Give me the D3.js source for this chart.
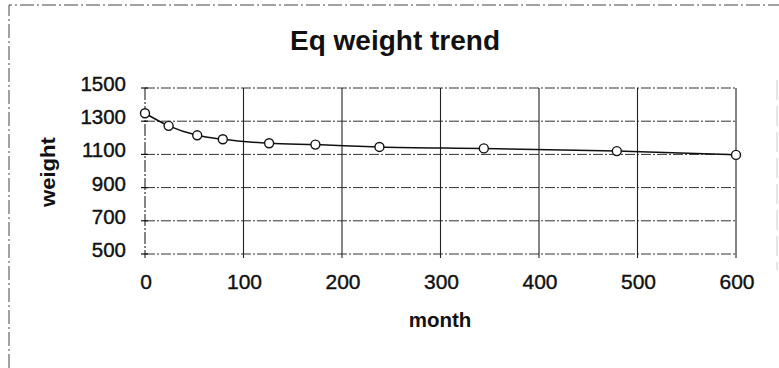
<!DOCTYPE html>
<html><head><meta charset="utf-8">
<script src="https://cdn.jsdelivr.net/npm/d3@7"></script>
<style>
html,body{margin:0;padding:0;background:#fff;}
svg{display:block;font-family:"Liberation Sans",Arial,sans-serif;}
</style></head>
<body><svg id="c" width="779" height="368"></svg>
<script>
const months = [0, 24, 53, 79, 126, 173, 238, 344, 479, 600];
const weights = [1348, 1272, 1215, 1191, 1167, 1159, 1145, 1136, 1120, 1097];
const xTicks = [0, 100, 200, 300, 400, 500, 600];
const yTicks = [500, 700, 900, 1100, 1300, 1500];
const title = "Eq weight trend";
const xLabel = "month";
const yLabel = "weight";

const svg = d3.select("#c");
const x = d3.scaleLinear().domain([0, 600]).range([145, 736]);
const y = d3.scaleLinear().domain([500, 1500]).range([254, 88]);

// outer border (dashed, like the scanned frame)
svg.append("path").attr("d", "M9,368 L9,5 L779,5")
  .attr("fill", "none").attr("stroke", "#444").attr("stroke-width", 1)
  .attr("stroke-dasharray", "14,3,2,3");
svg.append("line").attr("x1", 777).attr("x2", 777).attr("y1", 80).attr("y2", 270)
  .attr("stroke", "#ccc").attr("stroke-width", 1).attr("stroke-dasharray", "20,6");

// horizontal gridlines
svg.append("g").selectAll("line").data(yTicks).join("line")
  .attr("x1", x(0)).attr("x2", x(600))
  .attr("y1", d => y(d)).attr("y2", d => y(d))
  .attr("stroke", "#333").attr("stroke-width", 1)
  .attr("stroke-dasharray", "10,2,2,2");
// vertical gridlines
svg.append("g").selectAll("line").data(xTicks).join("line")
  .attr("x1", d => x(d)).attr("x2", d => x(d))
  .attr("y1", y(1500)).attr("y2", y(500) + 4)
  .attr("stroke", "#222").attr("stroke-width", 1.1)
  .attr("stroke-dasharray", d => d === 0 ? "12,2,2,2" : null);

// small tick marks at left axis
svg.append("g").selectAll("line").data(yTicks).join("line")
  .attr("x1", x(0) - 4).attr("x2", x(0) + 3)
  .attr("y1", d => y(d)).attr("y2", d => y(d))
  .attr("stroke", "#111").attr("stroke-width", 1.2);

// y tick labels
svg.append("g").selectAll("text").data(yTicks).join("text")
  .attr("x", 126).attr("y", d => y(d) + 3)
  .attr("text-anchor", "end").attr("font-size", 20.5).attr("fill", "#111")
  .attr("stroke", "#111").attr("stroke-width", 0.4)
  .text(d => d);
// x tick labels
svg.append("g").selectAll("text").data(xTicks).join("text")
  .attr("x", d => x(d) + 1).attr("y", 288.5)
  .attr("text-anchor", "middle").attr("font-size", 21).attr("fill", "#111")
  .attr("stroke", "#111").attr("stroke-width", 0.4)
  .text(d => d);

// title
svg.append("text").attr("x", 395).attr("y", 50).attr("text-anchor", "middle")
  .attr("font-size", 28).attr("font-weight", "bold").attr("fill", "#111").text(title);
// axis labels
svg.append("text").attr("x", 440).attr("y", 327).attr("text-anchor", "middle")
  .attr("font-size", 20.5).attr("font-weight", "bold").attr("fill", "#111").text(xLabel);
svg.append("text").attr("transform", "translate(55,172) rotate(-90)").attr("text-anchor", "middle")
  .attr("font-size", 20).attr("font-weight", "bold").attr("fill", "#111")
  .attr("textLength", 70).attr("lengthAdjust", "spacingAndGlyphs").text(yLabel);

const pts = months.map((m, i) => [m, weights[i]]);
const line = d3.line().x(d => x(d[0])).y(d => y(d[1])).curve(d3.curveMonotoneX);
svg.append("path").attr("d", line(pts)).attr("fill", "none")
  .attr("stroke", "#111").attr("stroke-width", 1.5);
svg.append("g").selectAll("circle").data(pts).join("circle")
  .attr("cx", d => x(d[0])).attr("cy", d => y(d[1])).attr("r", 4.5)
  .attr("fill", "#fff").attr("stroke", "#111").attr("stroke-width", 1.4);
</script></body></html>
